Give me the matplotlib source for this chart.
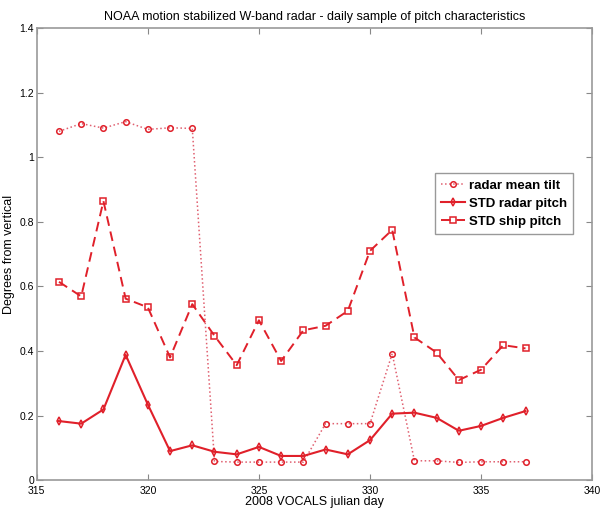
import matplotlib
matplotlib.use("Agg")
import matplotlib.pyplot as plt

plt.rcParams['font.family'] = ['Liberation Sans', 'DejaVu Sans']

days = list(range(316, 338))
mean_tilt = [1.080, 1.104, 1.090, 1.110, 1.086, 1.091, 1.089, 0.058, 0.056, 0.056,
             0.056, 0.056, 0.175, 0.175, 0.175, 0.392, 0.060, 0.060, 0.055, 0.057,
             0.057, 0.057]
std_radar = [0.183, 0.175, 0.219, 0.388, 0.234, 0.090, 0.108, 0.088, 0.080, 0.103,
             0.075, 0.075, 0.095, 0.080, 0.124, 0.206, 0.209, 0.193, 0.153, 0.168,
             0.193, 0.214]
std_ship = [0.614, 0.569, 0.864, 0.562, 0.535, 0.380, 0.545, 0.447, 0.356, 0.495,
            0.369, 0.464, 0.478, 0.524, 0.710, 0.775, 0.442, 0.395, 0.310, 0.342,
            0.418, 0.408]

red = '#e0202a'
fig = plt.figure(figsize=(6.03, 5.18), dpi=100)
ax = fig.add_axes([0.061, 0.073, 0.921, 0.873])

ax.plot(days, mean_tilt, linestyle=':', color='#e06070', marker='o', markersize=4,
        markerfacecolor='none', markeredgecolor=red, markeredgewidth=1.1, lw=1.1,
        label='radar mean tilt')
ax.plot(days, std_radar, linestyle='-', color=red, marker='d', markersize=4,
        markerfacecolor='none', markeredgewidth=1.1, lw=1.5, label='STD radar pitch')
ax.plot(days, std_ship, linestyle=(0, (5, 3)), color=red, marker='s', markersize=4,
        markerfacecolor='none', markeredgewidth=1.1, lw=1.4, label='STD ship pitch')

ax.set_xlim(315, 340)
ax.set_ylim(0, 1.4)
ax.set_xticks([315, 320, 325, 330, 335, 340])
ax.set_yticks([0, 0.2, 0.4, 0.6, 0.8, 1.0, 1.2, 1.4])
ax.set_yticklabels(['0', '0.2', '0.4', '0.6', '0.8', '1', '1.2', '1.4'])
ax.tick_params(direction='in', top=True, right=True, labelsize=7.5, length=4,
               color='#888888', pad=2)
ax.tick_params(axis='x', pad=4)
for s in ax.spines.values():
    s.set_color('#999999')
    s.set_linewidth(1.2)

ax.set_title('NOAA motion stabilized W-band radar - daily sample of pitch characteristics',
             fontsize=9, pad=6)
ax.set_xlabel('2008 VOCALS julian day', fontsize=9, labelpad=0)
ax.set_ylabel('Degrees from vertical', fontsize=9, labelpad=3)

leg = ax.legend(loc='upper left', bbox_to_anchor=(0.706, 0.693),
                prop={'weight': 'bold', 'size': 9.5}, handlelength=1.8, handletextpad=0.3,
                borderpad=0.45, labelspacing=0.45, fancybox=False, framealpha=1)
leg.get_frame().set_edgecolor('#999999')

fig.savefig('out.png', dpi=100)
